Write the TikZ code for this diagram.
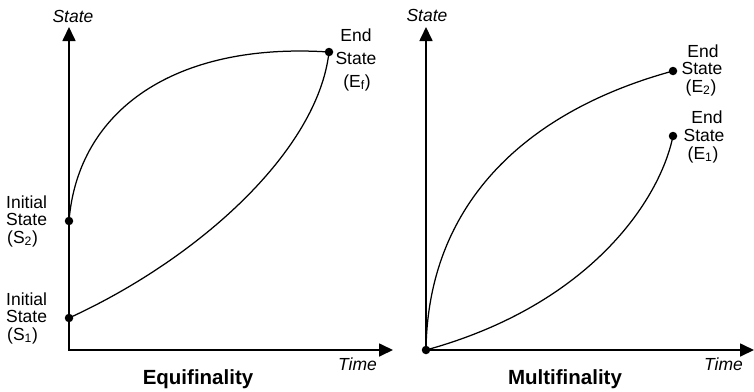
\documentclass[tikz,border=0pt]{standalone}
\usepackage{fontspec}
\setmainfont{Liberation Sans}
\usetikzlibrary{arrows.meta}
\begin{document}
\begin{tikzpicture}[x=1pt,y=-1pt,
  axis/.style={line width=1.7pt,line join=miter,
    {Triangle[length=14pt,width=13pt]}-{Triangle[length=14pt,width=13pt]}},
  curve/.style={line width=1.25pt},
  dot/.style={circle,fill=black,inner sep=0pt,minimum size=8.5pt},
  lbl/.style={inner sep=0pt,anchor=base,font=\fontsize{17.5}{18}\selectfont},
  lbll/.style={lbl,anchor=base west},
  axlbl/.style={lbl,font=\fontsize{17.5}{18}\selectfont\itshape},
  ttl/.style={inner sep=0pt,anchor=base,font=\fontsize{20.5}{22}\selectfont\bfseries}]
\useasboundingbox (0,0) rectangle (754,391);

% ---------- Equifinality ----------
\coordinate (O1) at (69,350);
\coordinate (Y1) at (69,27);
\coordinate (X1) at (393,350);
\coordinate (s2) at (69,221);
\coordinate (s1) at (69,318);
\coordinate (ef) at (329,52);
\draw[axis] (Y1) -- (O1) -- (X1);
\draw[curve] (s2) .. controls (78,110) and (175,42) .. (ef);
\draw[curve] (s1) .. controls (200,258) and (318,150) .. (ef);
\node[dot] (S2) at (s2) {};
\node[dot] (S1) at (s1) {};
\node[dot] (Ef) at (ef) {};

\node[axlbl] (st1) at (73,22) {State};
\node[axlbl] (tm1) at (357.5,370) {Time};
\node[ttl] (eq) at (198,384) {Equifinality};

\node[lbll] (s2a) at (6,208) {Initial};
\node[lbll] (s2b) at (6,225.5) {State};
\node[lbll] (s2c) at (7,243) {(S\textsubscript{2})};
\node[lbll] (s1a) at (6,305) {Initial};
\node[lbll] (s1b) at (6,322.5) {State};
\node[lbll] (s1c) at (7,340) {(S\textsubscript{1})};

\node[lbl] (efa) at (356,41) {End};
\node[lbl] (efb) at (356,64.5) {State};
\node[lbl] (efc) at (357,87) {(E\textsubscript{f})};

% ---------- Multifinality ----------
\coordinate (O2) at (426,350);
\coordinate (Y2) at (426,27);
\coordinate (X2) at (754,350);
\coordinate (e2) at (673,71);
\coordinate (e1) at (673,136);
\draw[axis] (Y2) -- (O2) -- (X2);
\draw[curve] (O2) .. controls (428,200) and (530,110) .. (e2);
\draw[curve] (O2) .. controls (590,305) and (660,200) .. (e1);
\node[dot] (S0) at (O2) {};
\node[dot] (E2) at (e2) {};
\node[dot] (E1) at (e1) {};

\node[axlbl] (st2) at (427,21) {State};
\node[axlbl] (tm2) at (723.5,370) {Time};
\node[ttl] (mu) at (565,384) {Multifinality};

\node[lbl] (e2a) at (703,57) {End};
\node[lbl] (e2b) at (702,74.5) {State};
\node[lbl] (e2c) at (701,92) {(E\textsubscript{2})};
\node[lbl] (e1a) at (707,123) {End};
\node[lbl] (e1b) at (704,141) {State};
\node[lbl] (e1c) at (703,159) {(E\textsubscript{1})};
\end{tikzpicture}
\end{document}
